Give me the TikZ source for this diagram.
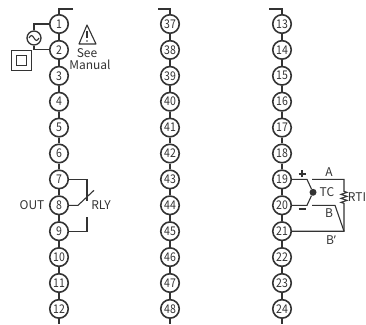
\documentclass[tikz,border=0pt]{standalone}
\usepackage{fontspec}
\setmainfont{Noto Sans CJK SC}
\newfontfamily\numfont[FakeStretch=0.88]{Noto Sans CJK SC}
\newfontfamily\latinfont{Noto Sans}
\usetikzlibrary{positioning}
\tikzset{
  term/.style={draw,circle,line width=1.6pt,minimum size=18.5pt,inner sep=0pt,font=\numfont\fontsize{12}{12}\selectfont},
  wire/.style={line width=1.1pt},
  lbl/.style={inner sep=0pt,font=\fontsize{12}{12}\selectfont},
}
\definecolor{ink}{HTML}{333333}
\begin{document}
\begin{tikzpicture}[x=1pt,y=1pt,on grid,node distance=25.9pt,color=ink,text=ink]
   \useasboundingbox (0,0) rectangle (366,324);

   % first column
   \node[term] (t1) at (59,300) {1};
   \node[term,below=of t1] (t2) {2};
   \node[term,below=of t2] (t3) {3};
   \node[term,below=of t3] (t4) {4};
   \node[term,below=of t4] (t5) {5};
   \node[term,below=of t5] (t6) {6};
   \node[term,below=of t6] (t7) {7};
   \node[term,below=of t7] (t8) {8};
   \node[term,below=of t8] (t9) {9};
   \node[term,below=of t9] (t10) {10};
   \node[term,below=of t10] (t11) {11};
   \node[term,below=of t11] (t12) {12};

   % second column
   \node[term] (t37) at (170,300) {37};
   \node[term,below=of t37] (t38) {38};
   \node[term,below=of t38] (t39) {39};
   \node[term,below=of t39] (t40) {40};
   \node[term,below=of t40] (t41) {41};
   \node[term,below=of t41] (t42) {42};
   \node[term,below=of t42] (t43) {43};
   \node[term,below=of t43] (t44) {44};
   \node[term,below=of t44] (t45) {45};
   \node[term,below=of t45] (t46) {46};
   \node[term,below=of t46] (t47) {47};
   \node[term,below=of t47] (t48) {48};

   % third column
   \node[term] (t13) at (282,300) {13};
   \node[term,below=of t13] (t14) {14};
   \node[term,below=of t14] (t15) {15};
   \node[term,below=of t15] (t16) {16};
   \node[term,below=of t16] (t17) {17};
   \node[term,below=of t17] (t18) {18};
   \node[term,below=of t18] (t19) {19};
   \node[term,below=of t19] (t20) {20};
   \node[term,below=of t20] (t21) {21};
   \node[term,below=of t21] (t22) {22};
   \node[term,below=of t22] (t23) {23};
   \node[term,below=of t23] (t24) {24};

   % stubs at the ends of the columns
   \coordinate[above=15pt of t1] (top1);
   \coordinate[right=14pt of top1] (stub1);
   \coordinate[below=15pt of t12] (end1);
   \coordinate[above=15pt of t37] (top2);
   \coordinate[left=12pt of top2] (stub2);
   \coordinate[below=15pt of t48] (end2);
   \coordinate[above=15pt of t13] (top3);
   \coordinate[left=13pt of top3] (stub3);
   \coordinate[below=15pt of t24] (end3);

   \draw[wire] (stub1) -- (top1) -- (t1) -- (t2) -- (t3) -- (t4) -- (t5) -- (t6) -- (t7) -- (t8) -- (t9) -- (t10) -- (t11) -- (t12) -- (end1);
   \draw[wire] (stub2) -- (top2) -- (t37) -- (t38) -- (t39) -- (t40) -- (t41) -- (t42) -- (t43) -- (t44) -- (t45) -- (t46) -- (t47) -- (t48) -- (end2);
   \draw[wire] (stub3) -- (top3) -- (t13) -- (t14) -- (t15) -- (t16) -- (t17) -- (t18) -- (t19) -- (t20) -- (t21) -- (t22) -- (t23) -- (t24) -- (end3);

   % supply
   \node[draw,circle,line width=1.3pt,minimum size=14pt,inner sep=0pt,below left=14pt and 25pt of t1] (supply) {};
   \draw[wire] (t1.west) -| (supply);
   \draw[wire] (t2.west) -| (supply);
   \draw[wire] ([xshift=-5pt]supply.center) sin ++(2.5,2.5) cos ++(2.5,-2.5) sin ++(2.5,-2.5) cos ++(2.5,2.5);

   \node[draw,line width=1.2pt,minimum size=20pt,below left=36.5pt and 37.5pt of t1] (earth) {};
   \node[draw,line width=1.2pt,minimum size=10pt] at (earth) (earthin) {};

   % warning
   \coordinate (warn0) at (87,299);
   \coordinate[below left=19pt and 8pt of warn0] (warn1);
   \coordinate[below right=19pt and 9pt of warn0] (warn2);
   \draw[wire,line join=round] (warn0) -- (warn1) -- (warn2) -- cycle;
   \draw[line width=1.3pt] ([yshift=-6pt]warn0) -- ([yshift=-13.5pt]warn0);
   \fill ([yshift=-16pt]warn0) circle (0.8pt);
   \node[lbl] (see) at (87,270.5) {See};
   \node[lbl,below right=11pt and 3pt of see] (manual) {Manual};

   % relay
   \node[lbl,left=27pt of t8] (out) {OUT};
   \node[lbl,right=42pt of t8] (rly) {RLY};
   \coordinate[right=28pt of t7] (rly7);
   \coordinate[below=22pt of rly7] (rly7b);
   \coordinate[right=19pt of t8] (rly8);
   \coordinate[above right=15pt and 16pt of rly8] (rly8b);
   \coordinate[right=28pt of t9] (rly9);
   \coordinate[above=14pt of rly9] (rly9b);
   \draw[wire] (t7.east) -- (rly7) -- (rly7b);
   \draw[wire] (t8.east) -- (rly8) -- (rly8b);
   \draw[wire] (t9.east) -- (rly9) -- (rly9b);

   % sensor
   \node[circle,fill,minimum size=7pt,inner sep=0pt,above right=13pt and 31pt of t20] (tc) {};
   \node[lbl,right=14pt of tc] (tclbl) {TC};
   \coordinate[right=25pt of t19] (tc19);
   \coordinate[right=25pt of t20] (tc20);
   \draw[wire] (t19.east) -- (tc19) -- (tc);
   \draw[wire] (t20.east) -- (tc20) -- (tc);
   \draw[line width=1.8pt] (298.5,150) -- (305.5,150) (302,146.5) -- (302,153.5);
   \draw[line width=1.8pt] (298.5,115) -- (305.5,115);

   \coordinate[right=30pt of t19] (a0);
   \coordinate[right=62pt of t19] (a1);
   \coordinate[right=62pt of t21] (a2);
   \coordinate[below=12pt of a1] (rti0);
   \coordinate[below=26pt of a1] (rti1);
   \draw[wire] (a0) -- (a1) -- (rti0) -- ++(3,-1) -- ++(-6,-2) -- ++(6,-2) -- ++(-6,-2) -- ++(6,-2) -- ++(-6,-2) -- ++(3,-1) -- (rti1) -- (a2) -- (t21.east);
   \coordinate[right=30pt of t20] (b0);
   \coordinate[right=53pt of t20] (b1);
   \draw[wire] (b0) -- (b1) -- (a2);

   \node[lbl,above right=7pt and 47pt of t19] (alb) {A};
   \node[lbl,below right=8pt and 47pt of t20] (blb) {B};
   \node[lbl,below right=9pt and 49pt of t21] (bplb) {B{\latinfont ’}};
   \node[lbl,right=75pt of t20,yshift=8pt] (rtilb) {RTI};
\end{tikzpicture}
\end{document}
